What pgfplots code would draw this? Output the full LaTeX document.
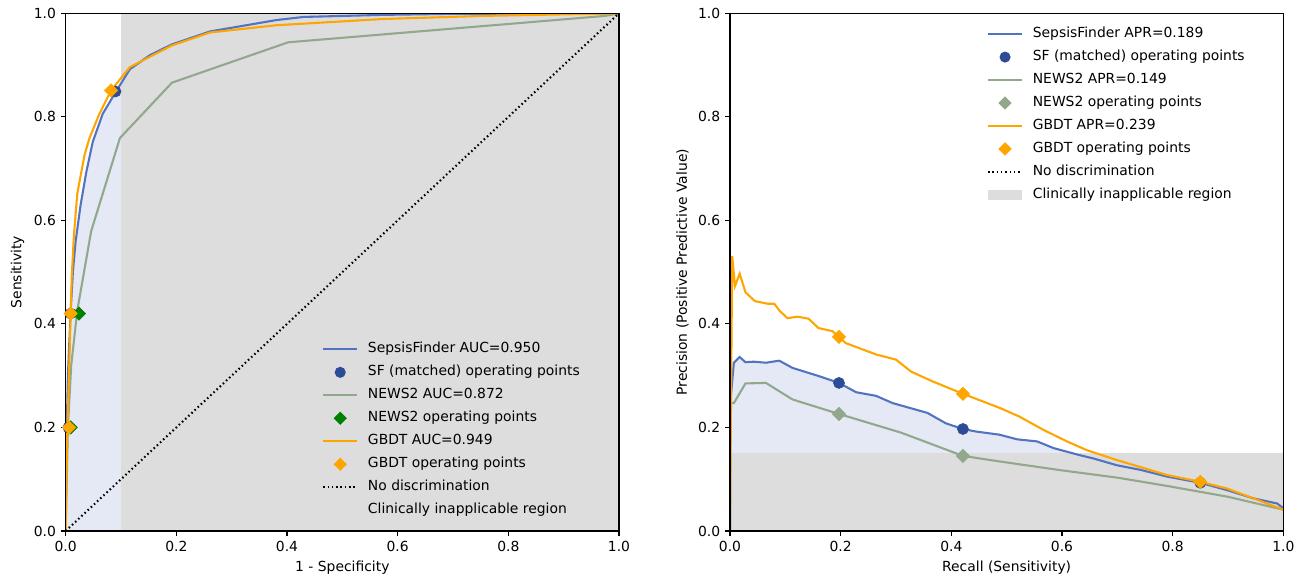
\documentclass[border=0pt]{standalone}
\usepackage{pgfplots}
\pgfplotsset{compat=1.18}
\usepackage{fontspec}
\setmainfont{DejaVu Sans}
\definecolor{sfblue}{RGB}{82,116,192}
\definecolor{sfdot}{RGB}{45,75,150}
\definecolor{newsline}{RGB}{145,168,140}
\definecolor{newsgreen}{RGB}{0,128,0}
\definecolor{gbdt}{RGB}{255,165,0}
\definecolor{regiongrey}{RGB}{221,221,221}
\definecolor{fillblue}{RGB}{228,233,245}
\tikzset{dotline/.style={black, line width=1.5pt, dash pattern=on 1.1pt off 2pt}}

\pgfplotsset{
  myaxis/.style={
    scale only axis, width=398.4pt, height=372.7pt,
    xmin=0, xmax=1, ymin=0, ymax=1,
    xtick={0,0.2,0.4,0.6,0.8,1}, ytick={0,0.2,0.4,0.6,0.8,1},
    xtick pos=lower, ytick pos=left,
    tick align=outside, major tick length=3.5pt,
    tick style={black, line width=0.8pt},
    axis line style={line width=0.8pt},
    axis on top,
    /pgf/number format/assume math mode=true,
    xticklabel style={/pgf/number format/.cd, fixed, fixed zerofill, precision=1, assume math mode=true},
    yticklabel style={/pgf/number format/.cd, fixed, fixed zerofill, precision=1, assume math mode=true},
    legend cell align=left,
    legend style={draw=none, fill=none, inner sep=0pt, row sep=7pt, column sep=7pt,
      nodes={inner sep=0pt, text height=7.3pt, text depth=2.2pt}},
  },
  lineimg/.style={legend image code/.code={\draw[#1] (0pt,0pt) -- (24.5pt,0pt);}},
  dotimg/.style={legend image code/.code={\path[draw=none,fill=none] (0pt,0pt) -- (24.5pt,0pt); \fill[#1, draw=none] (12.25pt,0pt) circle (4pt);}},
  diaimg/.style={legend image code/.code={\path[draw=none,fill=none] (0pt,0pt) -- (24.5pt,0pt); \fill[#1, draw=none] (12.25pt,4.8pt) -- (17.05pt,0pt) -- (12.25pt,-4.8pt) -- (7.45pt,0pt) -- cycle;}},
  areaimg/.style={legend image code/.code={\fill[#1, draw=none] (0pt,-3.6pt) rectangle (24.5pt,3.6pt);}},
  dmark/.style={only marks, mark=square*, mark size=3.4pt, mark options={rotate=45}},
}

\begin{document}
\begin{tikzpicture}
\useasboundingbox (-47.3pt,-37.4pt) rectangle (898.8pt,382.3pt);

% ---------------- Left: ROC ----------------
\begin{axis}[myaxis, at={(0pt,0pt)}, anchor=south west,
  xlabel={1 - Specificity}, ylabel={Sensitivity},
  legend style={at={(axis cs:0.463,0.364)}, anchor=north west}]
\addplot[fill=fillblue, draw=none, forget plot] coordinates {
(0,0) (0.001,0.15) (0.004,0.3) (0.009,0.426) (0.013,0.5) (0.018,0.56) (0.027,0.63) (0.037,0.692) (0.049,0.752) (0.067,0.806) (0.091,0.849) (0.1,0.865) (0.1,0) } -- cycle;
\addplot[fill=regiongrey, draw=none, forget plot] coordinates {(0.1,0) (1,0) (1,1) (0.1,1)} -- cycle;
\addplot[sfblue, line width=1.5pt, forget plot] coordinates {
(0,0) (0.001,0.15) (0.004,0.3) (0.009,0.426) (0.013,0.5) (0.018,0.56) (0.027,0.63) (0.037,0.692) (0.049,0.752) (0.067,0.806) (0.091,0.849) (0.116,0.892) (0.152,0.919) (0.192,0.940) (0.261,0.965) (0.381,0.987) (0.43,0.993) (0.573,0.997) (0.7,0.999) (1,1) };
\addplot[only marks, mark=*, mark size=4pt, color=sfdot, forget plot] coordinates {(0.005,0.2) (0.009,0.42) (0.09,0.849)};
\addplot[newsline, line width=1.5pt, forget plot] coordinates {
(0,0) (0.004,0.2) (0.01,0.32) (0.021,0.426) (0.046,0.579) (0.098,0.759) (0.192,0.866) (0.402,0.944) (0.975,0.995) (1,1) };
\addplot[dmark, color=newsgreen, forget plot] coordinates {(0.009,0.2) (0.024,0.42)};
\addplot[gbdt, line width=1.5pt, forget plot] coordinates {
(0,0) (0.003,0.2) (0.006,0.3) (0.009,0.42) (0.011,0.493) (0.015,0.573) (0.021,0.652) (0.034,0.726) (0.043,0.759) (0.061,0.806) (0.082,0.851) (0.116,0.896) (0.152,0.916) (0.192,0.938) (0.261,0.963) (0.381,0.977) (0.573,0.989) (0.755,0.995) (1,1) };
\addplot[dmark, color=gbdt, forget plot] coordinates {(0.006,0.2) (0.009,0.42) (0.082,0.851)};
\addplot[dotline, forget plot] coordinates {(0,0) (1,1)};
\addlegendimage{lineimg={sfblue, line width=1.5pt}}
\addlegendentry{SepsisFinder AUC=0.950}
\addlegendimage{dotimg=sfdot}
\addlegendentry{SF (matched) operating points}
\addlegendimage{lineimg={newsline, line width=1.5pt}}
\addlegendentry{NEWS2 AUC=0.872}
\addlegendimage{diaimg=newsgreen}
\addlegendentry{NEWS2 operating points}
\addlegendimage{lineimg={gbdt, line width=1.5pt}}
\addlegendentry{GBDT AUC=0.949}
\addlegendimage{diaimg=gbdt}
\addlegendentry{GBDT operating points}
\addlegendimage{lineimg={dotline}}
\addlegendentry{No discrimination}
\addlegendimage{areaimg=regiongrey}
\addlegendentry{Clinically inapplicable region}
\end{axis}

% ---------------- Right: PR ----------------
\begin{axis}[myaxis, at={(478.3pt,0pt)}, anchor=south west,
  xlabel={Recall (Sensitivity)}, ylabel={Precision (Positive Predictive Value)},
  legend style={at={(axis cs:0.464,0.973)}, anchor=north west}]
\addplot[fill=fillblue, draw=none, forget plot] coordinates {
(0,0) (0,0.505) (0.001,0.254) (0.007,0.325) (0.0175,0.336) (0.028,0.326) (0.043,0.327) (0.065,0.325) (0.089,0.329) (0.113,0.315) (0.161,0.299) (0.197,0.286) (0.228,0.268) (0.264,0.261) (0.294,0.247) (0.357,0.228) (0.390,0.208) (0.421,0.197) (0.445,0.192) (0.487,0.186) (0.519,0.177) (0.555,0.173) (0.585,0.160) (0.630,0.147) (0.657,0.140) (0.699,0.127) (0.742,0.118) (0.790,0.105) (0.85,0.093) (0.898,0.079) (0.946,0.063) (0.989,0.053) (1,0.044) (1,0) } -- cycle;
\addplot[fill=regiongrey, draw=none, forget plot] coordinates {(0,0) (1,0) (1,0.151) (0,0.151)} -- cycle;
\addplot[sfblue, line width=1.5pt, forget plot] coordinates {
(0,0) (0,0.505) (0.001,0.254) (0.007,0.325) (0.0175,0.336) (0.028,0.326) (0.043,0.327) (0.065,0.325) (0.089,0.329) (0.113,0.315) (0.161,0.299) (0.197,0.286) (0.228,0.268) (0.264,0.261) (0.294,0.247) (0.357,0.228) (0.390,0.208) (0.421,0.197) (0.445,0.192) (0.487,0.186) (0.519,0.177) (0.555,0.173) (0.585,0.160) (0.630,0.147) (0.657,0.140) (0.699,0.127) (0.742,0.118) (0.790,0.105) (0.85,0.093) (0.898,0.079) (0.946,0.063) (0.989,0.053) (1,0.044) };
\addplot[only marks, mark=*, mark size=4pt, color=sfdot, forget plot] coordinates {(0.197,0.286) (0.421,0.197) (0.85,0.093)};
\addplot[newsline, line width=1.5pt, forget plot] coordinates {
(0,0) (0,0.36) (0.001,0.247) (0.007,0.247) (0.028,0.285) (0.065,0.286) (0.113,0.254) (0.197,0.226) (0.309,0.190) (0.421,0.145) (0.489,0.134) (0.6,0.117) (0.7,0.103) (0.79,0.087) (0.9,0.066) (1,0.041) };
\addplot[dmark, color=newsline, forget plot] coordinates {(0.197,0.226) (0.421,0.145)};
\addplot[gbdt, line width=1.5pt, forget plot] coordinates {
(0,0) (0.004,0.531) (0.009,0.473) (0.0175,0.497) (0.028,0.461) (0.045,0.444) (0.068,0.439) (0.080,0.439) (0.090,0.425) (0.104,0.411) (0.122,0.414) (0.142,0.410) (0.160,0.392) (0.185,0.386) (0.197,0.375) (0.209,0.363) (0.264,0.341) (0.300,0.331) (0.327,0.308) (0.366,0.289) (0.421,0.265) (0.489,0.237) (0.523,0.221) (0.567,0.195) (0.609,0.173) (0.645,0.156) (0.699,0.137) (0.790,0.108) (0.85,0.095) (0.898,0.082) (0.946,0.063) (1,0.041) };
\addplot[dmark, color=gbdt, forget plot] coordinates {(0.197,0.375) (0.421,0.265) (0.85,0.095)};
\addlegendimage{lineimg={sfblue, line width=1.5pt}}
\addlegendentry{SepsisFinder APR=0.189}
\addlegendimage{dotimg=sfdot}
\addlegendentry{SF (matched) operating points}
\addlegendimage{lineimg={newsline, line width=1.5pt}}
\addlegendentry{NEWS2 APR=0.149}
\addlegendimage{diaimg=newsline}
\addlegendentry{NEWS2 operating points}
\addlegendimage{lineimg={gbdt, line width=1.5pt}}
\addlegendentry{GBDT APR=0.239}
\addlegendimage{diaimg=gbdt}
\addlegendentry{GBDT operating points}
\addlegendimage{lineimg={dotline}}
\addlegendentry{No discrimination}
\addlegendimage{areaimg=regiongrey}
\addlegendentry{Clinically inapplicable region}
\end{axis}
\end{tikzpicture}
\end{document}
